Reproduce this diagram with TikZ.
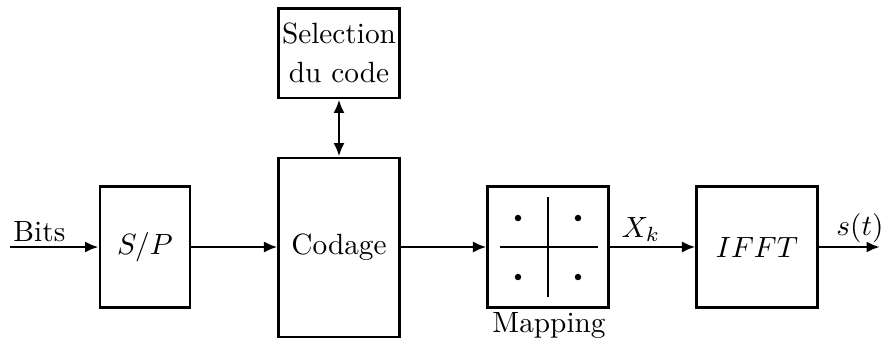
\documentclass[tikz,border=0pt]{standalone}
\usetikzlibrary{arrows.meta}
\begin{document}
\begin{tikzpicture}[x=0.3413pt,y=-0.3413pt, line width=1pt,
  blk/.style={draw, inner sep=0pt, align=center},
  arr/.style={-{Latex[length=4.6pt,width=3.8pt]}},
  darr/.style={{Latex[length=4.6pt,width=3.8pt]}-{Latex[length=4.6pt,width=3.8pt]}},
  lbl/.style={anchor=base, inner sep=0pt}]
\useasboundingbox (0,0) rectangle (882,349);
% blocks
\node[blk, minimum width=30.7pt, minimum height=41pt] (sp) at (145,247) {$S/P$};
\node[blk, minimum width=41pt, minimum height=61.1pt] (cod) at (339,247.5) {Codage};
\node[blk, minimum width=41pt, minimum height=30.7pt] (sel) at (339,53) {Selection\\[1.5pt]du code};
\node[blk, minimum width=41pt, minimum height=41pt] (map) at (548,247) {};
\node[blk, minimum width=41pt, minimum height=41pt] (ifft) at (757,247) {$IFFT$};
% constellation inside mapping
\draw (500,247) -- (598,247);
\draw (548,197) -- (548,297);
\foreach \px/\py in {518/218, 578/218, 518/277, 578/277}
  \fill (\px,\py) circle[radius=1.1pt];
% labels
\node[lbl, anchor=base west] (bits) at (12,241) {Bits};
\node[lbl] (xk) at (641,237) {$X_k$};
\node[lbl] (st) at (860,235) {$s(t)$};
\node[lbl] (mapl) at (549,332) {Mapping};
% connectors
\coordinate (in) at (10,247);
\coordinate (out) at (880,247);
\draw[arr] (in) -- (sp);
\draw[arr] (sp) -- (sp -| cod.west);
\draw[arr] (cod.east |- map) -- (map);
\draw[arr] (map) -- (ifft);
\draw[arr] (ifft) -- (out);
\draw[darr] (sel) -- (cod);
\end{tikzpicture}
\end{document}
